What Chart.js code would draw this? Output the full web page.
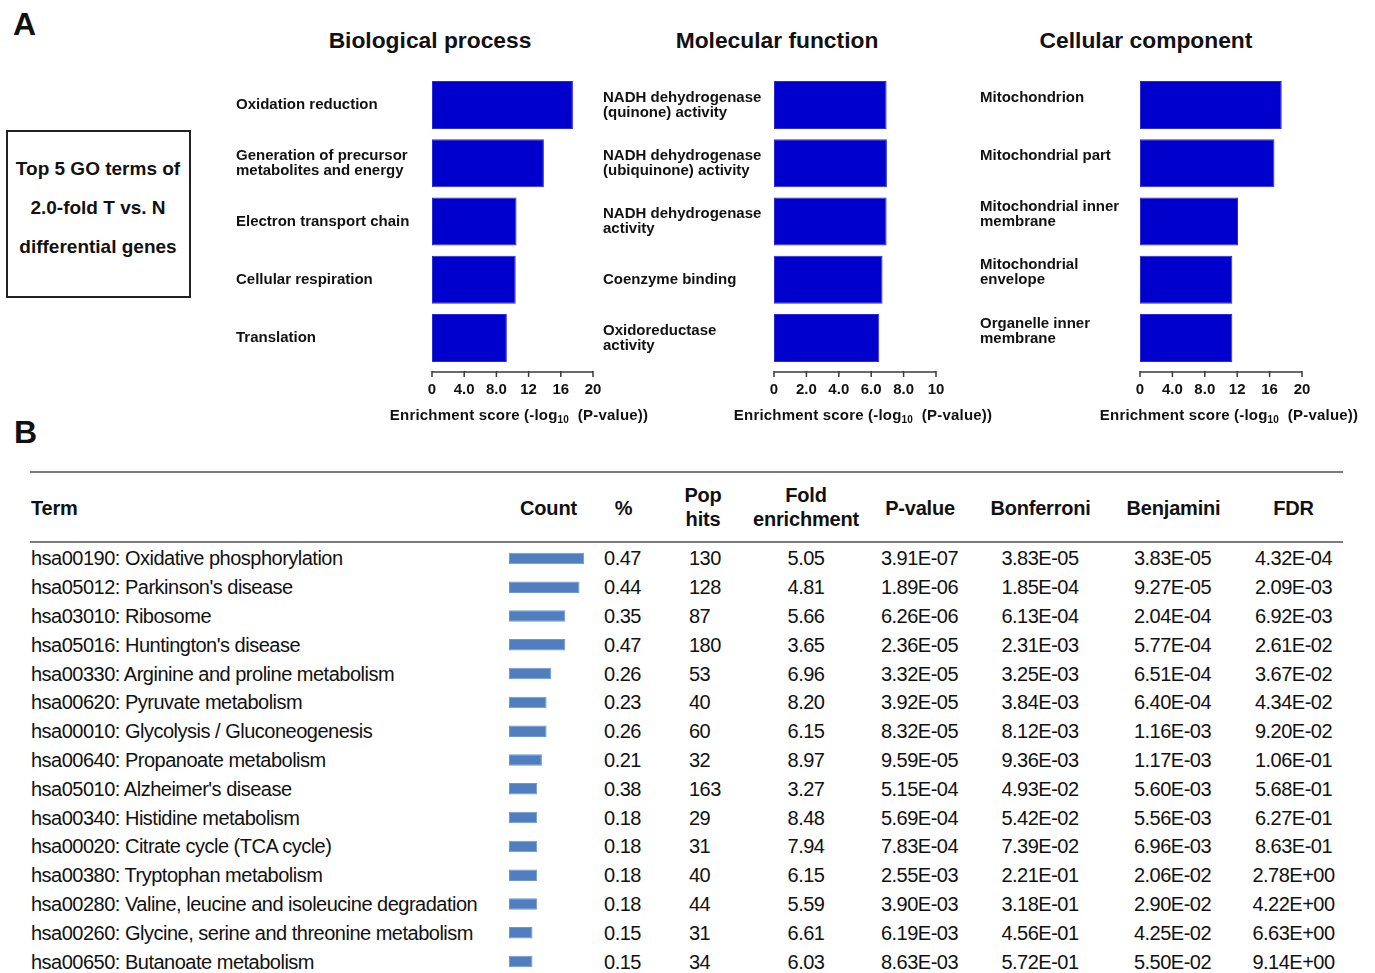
<!DOCTYPE html>
<html>
<head>
<meta charset="utf-8">
<script src="https://cdn.jsdelivr.net/npm/chart.js@4.4.0/dist/chart.umd.min.js"></script>
<style>
  html, body { margin: 0; padding: 0; background: #fff; }
  body { width: 1375px; height: 973px; position: relative; overflow: hidden;
         font-family: "Liberation Sans", Arial, sans-serif; color: #111; }
  .abs { position: absolute; white-space: nowrap; }
  .panel-letter { font-weight: bold; font-size: 32px; line-height: 32px; }
  .panel-title { font-weight: bold; font-size: 22.8px; line-height: 26px; width: 300px; text-align: center; }
  .axis-title { font-weight: bold; font-size: 15px; line-height: 20px; width: 320px; text-align: center; letter-spacing: 0.2px; }
  .axis-title sub { font-size: 10px; vertical-align: -3px; line-height: 0; }
  .go-box { border: 2px solid #222; box-sizing: border-box; }
  .box-text { font-weight: bold; font-size: 19px; line-height: 39px; text-align: center; width: 184px; }
  .rule { height: 2px; background: #7a7a7a; }
  .th { font-weight: bold; font-size: 20px; letter-spacing: -0.2px; line-height: 24px; }
  .td { font-size: 20px; letter-spacing: -0.5px; line-height: 24px; }
  canvas { position: absolute; }
</style>
</head>
<body>

<div class="abs panel-letter" style="left:13px; top:8px;">A</div>
<div class="abs panel-letter" style="left:14px; top:416px;">B</div>

<div class="abs go-box" style="left:6px; top:130px; width:185px; height:168px;"></div>
<div class="abs box-text" style="left:6px; top:149px;">Top 5 GO terms of<br>2.0-fold T vs. N<br>differential genes</div>

<div class="abs panel-title" style="left:280px; top:27px;">Biological process</div>
<div class="abs panel-title" style="left:627px; top:27px;">Molecular function</div>
<div class="abs panel-title" style="left:996px; top:27px;">Cellular component</div>

<canvas id="bpChart" width="369" height="337" style="left:236px; top:70px;"></canvas>
<canvas id="mfChart" width="345" height="337" style="left:603px; top:70px;"></canvas>
<canvas id="ccChart" width="334" height="337" style="left:980px; top:70px;"></canvas>

<div class="abs axis-title" style="left:359px; top:405px;">Enrichment score (-log<sub>10</sub> &nbsp;(P-value))</div>
<div class="abs axis-title" style="left:703px; top:405px;">Enrichment score (-log<sub>10</sub> &nbsp;(P-value))</div>
<div class="abs axis-title" style="left:1069px; top:405px;">Enrichment score (-log<sub>10</sub> &nbsp;(P-value))</div>

<div class="abs rule" style="left:30px; top:471px; width:1313px;"></div>
<div class="abs rule" style="left:30px; top:541px; width:1313px;"></div>

<div id="table"></div>
<canvas id="countChart" width="94" height="432" style="left:509px; top:544px;"></canvas>

<script>
// ---- GO enrichment (top 5 terms per category) ----
const bpTerms = ['Oxidation reduction', ['Generation of precursor', 'metabolites and energy'], 'Electron transport chain', 'Cellular respiration', 'Translation'];
const bpScores = [17.5, 13.9, 10.5, 10.4, 9.3];
const bpTickLabels = ['0', '4.0', '8.0', '12', '16', '20'];

const mfTerms = [['NADH dehydrogenase', '(quinone) activity'], ['NADH dehydrogenase', '(ubiquinone) activity'], ['NADH dehydrogenase', 'activity'], 'Coenzyme binding', ['Oxidoreductase', 'activity']];
const mfScores = [6.95, 6.97, 6.95, 6.7, 6.5];
const mfTickLabels = ['0', '2.0', '4.0', '6.0', '8.0', '10'];

const ccTerms = ['Mitochondrion', 'Mitochondrial part', ['Mitochondrial inner', 'membrane'], ['Mitochondrial', 'envelope'], ['Organelle inner', 'membrane']];
const ccScores = [17.5, 16.6, 12.1, 11.4, 11.4];
const ccTickLabels = ['0', '4.0', '8.0', '12', '16', '20'];

// ---- KEGG pathway table ----
const keggTerms = [
  'hsa00190: Oxidative phosphorylation',
  "hsa05012: Parkinson's disease",
  'hsa03010: Ribosome',
  "hsa05016: Huntington's disease",
  'hsa00330: Arginine and proline metabolism',
  'hsa00620: Pyruvate metabolism',
  'hsa00010: Glycolysis / Gluconeogenesis',
  'hsa00640: Propanoate metabolism',
  "hsa05010: Alzheimer's disease",
  'hsa00340: Histidine metabolism',
  'hsa00020: Citrate cycle (TCA cycle)',
  'hsa00380: Tryptophan metabolism',
  'hsa00280: Valine, leucine and isoleucine degradation',
  'hsa00260: Glycine, serine and threonine metabolism',
  'hsa00650: Butanoate metabolism'
];
const keggCounts = [16, 15, 12, 12, 9, 8, 8, 7, 6, 6, 6, 6, 6, 5, 5];
const keggPercent = ['0.47', '0.44', '0.35', '0.47', '0.26', '0.23', '0.26', '0.21', '0.38', '0.18', '0.18', '0.18', '0.18', '0.15', '0.15'];
const keggPopHits = ['130', '128', '87', '180', '53', '40', '60', '32', '163', '29', '31', '40', '44', '31', '34'];
const keggFold = ['5.05', '4.81', '5.66', '3.65', '6.96', '8.20', '6.15', '8.97', '3.27', '8.48', '7.94', '6.15', '5.59', '6.61', '6.03'];
const keggPValue = ['3.91E-07', '1.89E-06', '6.26E-06', '2.36E-05', '3.32E-05', '3.92E-05', '8.32E-05', '9.59E-05', '5.15E-04', '5.69E-04', '7.83E-04', '2.55E-03', '3.90E-03', '6.19E-03', '8.63E-03'];
const keggBonferroni = ['3.83E-05', '1.85E-04', '6.13E-04', '2.31E-03', '3.25E-03', '3.84E-03', '8.12E-03', '9.36E-03', '4.93E-02', '5.42E-02', '7.39E-02', '2.21E-01', '3.18E-01', '4.56E-01', '5.72E-01'];
const keggBenjamini = ['3.83E-05', '9.27E-05', '2.04E-04', '5.77E-04', '6.51E-04', '6.40E-04', '1.16E-03', '1.17E-03', '5.60E-03', '5.56E-03', '6.96E-03', '2.06E-02', '2.90E-02', '4.25E-02', '5.50E-02'];
const keggFDR = ['4.32E-04', '2.09E-03', '6.92E-03', '2.61E-02', '3.67E-02', '4.34E-02', '9.20E-02', '1.06E-01', '5.68E-01', '6.27E-01', '8.63E-01', '2.78E+00', '4.22E+00', '6.63E+00', '9.14E+00'];

// Axis baseline with downward tick marks, drawn slightly below the bars
const axisLinePlugin = {
  id: 'axisLine',
  afterDraw(chart) {
    const xs = chart.scales.x;
    const ctx = chart.ctx;
    const y0 = chart.chartArea.bottom + 5;
    ctx.save();
    ctx.strokeStyle = '#3a3a3a';
    ctx.lineWidth = 1.5;
    ctx.beginPath();
    ctx.moveTo(xs.left - 0.75, y0);
    ctx.lineTo(xs.right + 0.75, y0);
    xs.ticks.forEach(t => {
      const px = xs.getPixelForValue(t.value);
      ctx.moveTo(px, y0 - 1);
      ctx.lineTo(px, y0 + 5);
    });
    ctx.stroke();
    ctx.restore();
  }
};

function goChart(id, terms, scores, max, step, tickLabels, labelWidth, labelShift) {
  return new Chart(document.getElementById(id), {
    type: 'bar',
    data: {
      labels: terms,
      datasets: [{
        data: scores,
        backgroundColor: '#0000CC',
        borderColor: '#2a2ad8',
        borderWidth: 1,
        borderSkipped: false,
        barPercentage: 0.825,
        categoryPercentage: 1
      }]
    },
    options: {
      indexAxis: 'y',
      responsive: false,
      animation: false,
      devicePixelRatio: 1,
      layout: { padding: { top: 6, right: 12, left: 0, bottom: 0 } },
      plugins: { legend: { display: false }, tooltip: { enabled: false }, title: { display: false } },
      scales: {
        x: {
          min: 0, max: max,
          grid: { display: false, drawTicks: false },
          border: { display: false },
          ticks: {
            stepSize: step,
            padding: 14,
            color: '#111',
            font: { family: 'Liberation Sans, Arial, sans-serif', size: 15, weight: 'bold', lineHeight: 1.2 },
            callback: (v, i) => tickLabels[i]
          },
          afterFit: s => { s.height = 40; s.paddingLeft = 0; s.paddingRight = 0; }
        },
        y: {
          grid: { display: false, drawTicks: false },
          border: { display: false },
          ticks: {
            crossAlign: 'far',
            padding: 0,
            labelOffset: labelShift,
            color: '#111',
            font: { family: 'Liberation Sans, Arial, sans-serif', size: 15, weight: 'bold', lineHeight: 1.0 }
          },
          afterFit: s => { s.width = labelWidth; s.paddingTop = 0; s.paddingBottom = 0; }
        }
      }
    },
    plugins: [axisLinePlugin]
  });
}

goChart('bpChart', bpTerms, bpScores, 20, 4, bpTickLabels, 196, 0);
goChart('mfChart', mfTerms, mfScores, 10, 2, mfTickLabels, 171, 0);
goChart('ccChart', ccTerms, ccScores, 20, 4, ccTickLabels, 160, -7);

// ---- Table text ----
const table = document.getElementById('table');
function cell(text, cls, x, yCenter, align) {
  const d = document.createElement('div');
  d.className = 'abs ' + cls;
  d.innerHTML = text;
  d.style.top = (yCenter - 12) + 'px';
  if (align === 'left') {
    d.style.left = x + 'px';
  } else {
    d.style.left = (x - 150) + 'px';
    d.style.width = '300px';
    d.style.textAlign = 'center';
  }
  table.appendChild(d);
}

const headerRow = [
  ['Term', 31, 'left'], ['Count', 548.5, 'center'], ['%', 623.5, 'center'],
  ['Pop<br>hits', 703, 'center'], ['Fold<br>enrichment', 806, 'center'],
  ['P-value', 920, 'center'], ['Bonferroni', 1040.5, 'center'],
  ['Benjamini', 1173.5, 'center'], ['FDR', 1293.5, 'center']
];
headerRow.forEach(([t, x, a]) => {
  const twoLine = t.includes('<br>');
  cell(t, 'th', x, twoLine ? 495 : 508, a);
});

const rowPitch = 28.8;
keggTerms.forEach((term, i) => {
  const y = 558.4 + i * rowPitch;
  cell(term, 'td', 31, y, 'left');
  cell(keggPercent[i], 'td', 622.5, y, 'center');
  cell(keggPopHits[i], 'td', 689, y, 'left');
  cell(keggFold[i], 'td', 806, y, 'center');
  cell(keggPValue[i], 'td', 919.5, y, 'center');
  cell(keggBonferroni[i], 'td', 1040, y, 'center');
  cell(keggBenjamini[i], 'td', 1172.5, y, 'center');
  cell(keggFDR[i], 'td', 1293.5, y, 'center');
});

// ---- Count column: in-cell bars ----
new Chart(document.getElementById('countChart'), {
  type: 'bar',
  data: {
    labels: keggTerms,
    datasets: [{
      data: keggCounts,
      backgroundColor: '#4F7FBF',
      borderColor: '#6f97cc',
      borderWidth: 1,
      borderSkipped: false,
      barPercentage: 0.4,
      categoryPercentage: 1
    }]
  },
  options: {
    indexAxis: 'y',
    responsive: false,
    animation: false,
    devicePixelRatio: 1,
    layout: { padding: 0 },
    plugins: { legend: { display: false }, tooltip: { enabled: false } },
    scales: {
      x: { display: false, min: 0, max: 20 },
      y: { display: false }
    }
  }
});
</script>
</body>
</html>
